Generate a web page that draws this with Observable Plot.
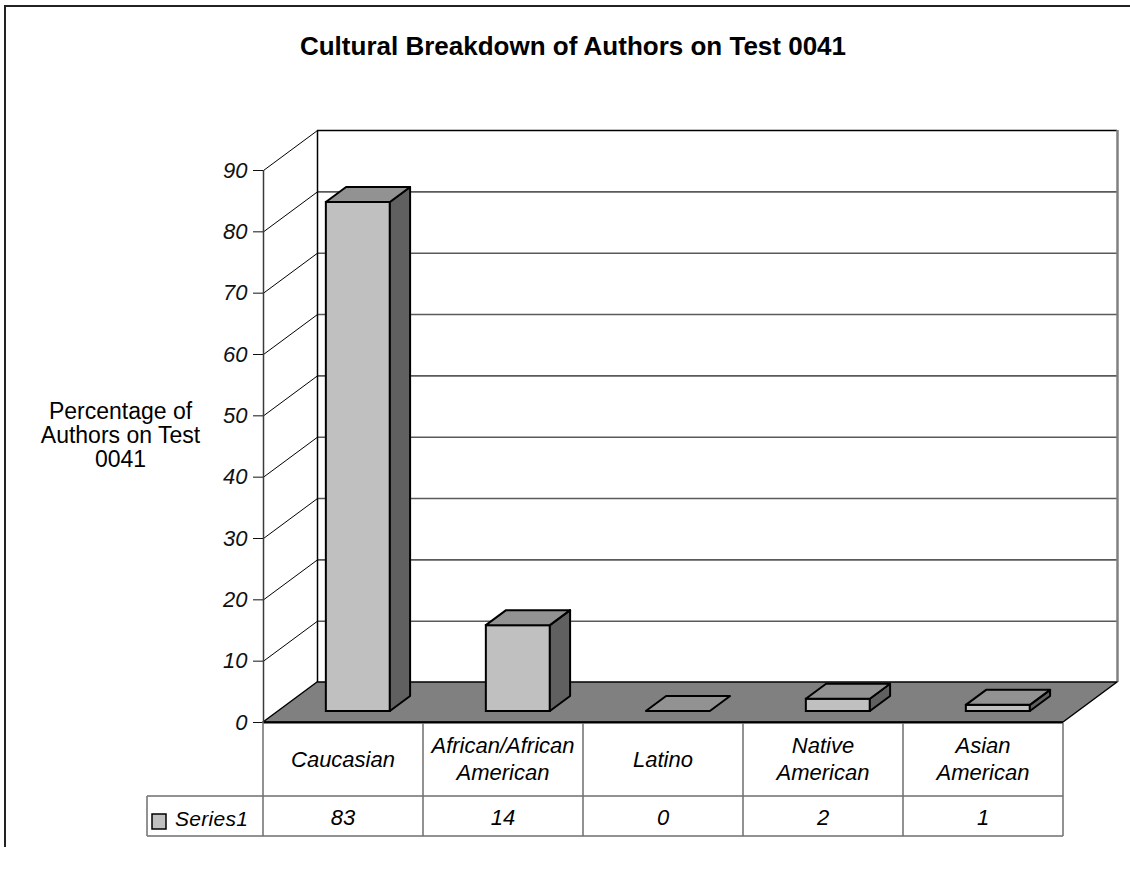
<!DOCTYPE html>
<html>
<head>
<meta charset="utf-8">
<script src="https://cdn.jsdelivr.net/npm/d3@7"></script>
<script src="https://cdn.jsdelivr.net/npm/@observablehq/plot@0.6"></script>
<style>
  body { margin: 0; background: #fff; }
  #wrap { position: relative; width: 1130px; height: 875px; overflow: hidden;
          font-family: "Liberation Sans", Arial, sans-serif; }
  #chart { position: absolute; left: 0; top: 0; }
  #frame { position: absolute; left: 4px; top: 5px; width: 1200px; height: 840px;
           border-top: 2px solid #222; border-left: 2px solid #222; }
  #title { position: absolute; top: 33px; left: 573px; transform: translateX(-50%);
           font-weight: bold; font-size: 26px; line-height: 26px; white-space: nowrap; color: #000; }
</style>
</head>
<body>
<div id="wrap">
  <div id="chart"></div>
  <div id="frame"></div>
  <div id="title">Cultural Breakdown of Authors on Test 0041</div>
</div>
<script>
// Chart data
const categories = ["Caucasian", "African/African American", "Latino", "Native American", "Asian American"];
const headerLines = [["Caucasian"], ["African/African", "American"], ["Latino"], ["Native", "American"], ["Asian", "American"]];
const values = [83, 14, 0, 2, 1];
const yTicks = [0, 10, 20, 30, 40, 50, 60, 70, 80, 90];
const seriesName = "Series1";
const axisTitle = "Percentage of\nAuthors on Test\n0041";

// Oblique 3D projection, expressed in data units:
// moving to the back wall shifts x by DX categories and y by DY value units.
const DX = 0.3375;
const DY = 6.52;
const F1 = 0.275;   // depth of a bar's front face
const F2 = 0.65;    // depth of a bar's back face
const BAR_OFF = 0.3, BAR_W = 0.4;

const bars = categories.map((c, i) => ({c, i, v: values[i]}));
const xl = (d, f) => d.i + BAR_OFF + f * DX;
const xr = (d, f) => d.i + BAR_OFF + BAR_W + f * DX;

const rightPts = bars.filter(d => d.v > 0).flatMap(d => [
  {c: d.c, x: xr(d, F1), y1: F1 * DY, y2: d.v + F1 * DY},
  {c: d.c, x: xr(d, F2), y1: F2 * DY, y2: d.v + F2 * DY}
]);
const topPts = bars.flatMap(d => [
  {c: d.c, y: d.v + F1 * DY, x1: xl(d, F1), x2: xr(d, F1)},
  {c: d.c, y: d.v + F2 * DY, x1: xl(d, F2), x2: xr(d, F2)}
]);
const floorPts = [
  {y: 0, x1: 0, x2: categories.length},
  {y: DY, x1: DX, x2: categories.length + DX}
];

const N = categories.length;
const FONT = '"Liberation Sans", Arial, sans-serif';

// Data table under the floor, laid out on the x scale's columns
function dataTable(index, scales) {
  const x = scales.x, y = scales.y;
  const top = y(0), mid = top + 74, bot = mid + 40;
  const left = x(0) - 116;
  const g = d3.create("svg:g")
    .attr("font-family", FONT)
    .attr("font-style", "italic")
    .attr("fill", "#000");
  const lines = g.append("g").attr("stroke", "#6e6e6e").attr("stroke-width", 1.5);
  lines.append("line").attr("x1", left).attr("x2", x(N)).attr("y1", mid).attr("y2", mid);
  lines.append("line").attr("x1", left).attr("x2", x(N)).attr("y1", bot).attr("y2", bot);
  lines.append("line").attr("x1", left).attr("x2", left).attr("y1", mid).attr("y2", bot);
  for (let i = 0; i <= N; ++i) {
    lines.append("line").attr("x1", x(i)).attr("x2", x(i)).attr("y1", i === 0 ? top : top + 1).attr("y2", bot);
  }
  headerLines.forEach((ls, i) => {
    const cx = (x(i) + x(i + 1)) / 2;
    const lh = 27;
    const cy = (top + mid) / 2 - (ls.length - 1) * lh / 2;
    ls.forEach((t, k) => {
      g.append("text").attr("x", cx).attr("y", cy + k * lh).attr("dy", "0.35em")
        .attr("text-anchor", "middle").attr("font-size", 22).text(t);
    });
  });
  values.forEach((v, i) => {
    g.append("text").attr("x", (x(i) + x(i + 1)) / 2).attr("y", (mid + bot) / 2 + 1).attr("dy", "0.35em")
      .attr("text-anchor", "middle").attr("font-size", 22).text(v);
  });
  g.append("rect").attr("x", left + 5).attr("y", mid + 18).attr("width", 14).attr("height", 15)
    .attr("fill", "#c0c0c0").attr("stroke", "#000").attr("stroke-width", 1.5);
  g.append("text").attr("x", left + 28).attr("y", (mid + bot) / 2 + 3).attr("dy", "0.35em")
    .attr("text-anchor", "start").attr("font-size", 21).attr("letter-spacing", "0.3px").text(seriesName);
  return g.node();
}

const chart = Plot.plot({
  width: 1130,
  height: 875,
  marginLeft: 263,
  marginRight: 67,
  marginTop: 170,
  marginBottom: 153,
  x: {domain: [0, N], axis: null},
  y: {domain: [0, 90], axis: null},
  style: {fontFamily: FONT, background: "transparent", overflow: "visible"},
  marks: [
    // back wall gridlines and edges
    Plot.ruleY(yTicks.slice(1, -1), {y: v => v + DY, x1: DX, x2: N + DX, stroke: "#5a5a5a", strokeWidth: 1.6}),
    Plot.ruleY([90], {y: v => v + DY, x1: DX, x2: N + DX, stroke: "#000", strokeWidth: 1.5}),
    Plot.ruleX([DX], {y1: DY, y2: 90 + DY, stroke: "#000", strokeWidth: 1.5}),
    Plot.ruleX([N + DX], {y1: DY, y2: 90 + DY, stroke: "#808080", strokeWidth: 2.5}),
    // side wall gridlines
    Plot.link(yTicks.slice(1), {x1: 0, y1: v => v, x2: DX, y2: v => v + DY, stroke: "#000", strokeWidth: 1}),
    // floor
    Plot.area(floorPts, {x1: "x1", x2: "x2", y1: "y", fill: "#808080", stroke: "#000", strokeWidth: 1.5, strokeLinejoin: "round"}),
    Plot.ruleY([0], {x1: 0, x2: N, stroke: "#000", strokeWidth: 2}),
    // value axis line
    Plot.ruleX([0], {y1: 0, y2: 90, stroke: "#3a3a3a", strokeWidth: 1.5}),
    // bars: front, side and top faces
    Plot.rect(bars.filter(d => d.v > 0), {
      x1: d => xl(d, F1), x2: d => xr(d, F1), y1: F1 * DY, y2: d => d.v + F1 * DY,
      fill: "#c0c0c0", stroke: "#000", strokeWidth: 2
    }),
    Plot.area(rightPts, {x1: "x", y1: "y1", y2: "y2", z: "c", fill: "#606060", stroke: "#000", strokeWidth: 2, strokeLinejoin: "round"}),
    Plot.area(topPts, {x1: "x1", x2: "x2", y1: "y", z: "c", fill: "#929292", stroke: "#000", strokeWidth: 2, strokeLinejoin: "round"}),
    // value axis ticks and labels
    Plot.axisY(yTicks, {tickSize: 10, tickPadding: 6, fontSize: 22, fontStyle: "italic", color: "#111", label: null}),
    Plot.text([axisTitle], {frameAnchor: "left", dx: -143, dy: -11, textAnchor: "middle", lineHeight: 1.04, fontSize: 23, fill: "#000"}),
    dataTable
  ]
});
document.getElementById("chart").appendChild(chart);
</script>
</body>
</html>
